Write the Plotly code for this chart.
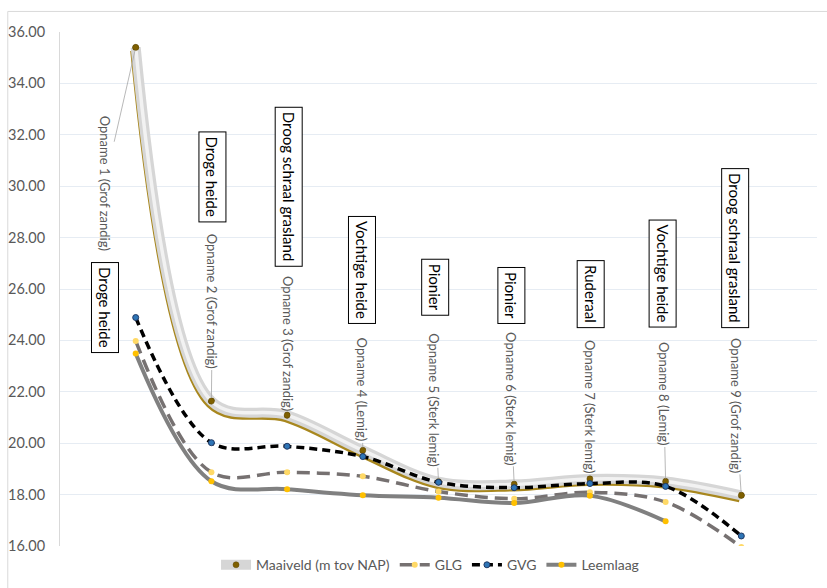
import plotly.graph_objects as go

# ---------------- data ----------------
opnames = ["Opname 1 (Grof zandig)", "Opname 2 (Grof zandig)", "Opname 3 (Grof zandig)",
           "Opname 4 (Lemig)", "Opname 5 (Sterk lemig)", "Opname 6 (Sterk lemig)",
           "Opname 7 (Sterk lemig)", "Opname 8 (Lemig)", "Opname 9 (Grof zandig)"]
vegetatie = ["Droge heide", "Droge heide", "Droog schraal grasland", "Vochtige heide",
             "Pionier", "Pionier", "Ruderaal", "Vochtige heide", "Droog schraal grasland"]
maaiveld = [35.40, 21.64, 21.09, 19.72, 18.50, 18.40, 18.61, 18.51, 17.97]
glg = [23.98, 18.87, 18.87, 18.71, 18.12, 17.84, 18.09, 17.71, 15.96]
gvg = [24.89, 20.02, 19.88, 19.48, 18.48, 18.27, 18.43, 18.32, 16.39]
leemlaag = [23.49, 18.52, 18.21, 17.97, 17.88, 17.67, 17.96, 16.96, None]
y_ticks = [16, 18, 20, 22, 24, 26, 28, 30, 32, 34, 36]

xs = list(range(1, len(opnames) + 1))

# ---------------- layout helpers (positions, not data) ----------------
label_offsets = [(-31, 136), (1, -100), (1, -72), (-1, -61), (-4, -82),
                 (-4, -86), (0, -72), (-2, -88), (-6, -90)]
box_pos = [(0.594, 25.26), (2.008, 30.38), (3.018, 29.96), (3.983, 26.76), (4.95, 26.06),
           (5.967, 25.74), (7.005, 25.79), (7.966, 26.60), (8.917, 27.59)]

FONT = "Lato"
GREY_TXT = "#595959"
shift_x = 0.02    # ~1.5 px
shift_y = 0.12    # ~3 px

fig = go.Figure()

# gold edge of the Maaiveld band (on base axes, slightly shifted)
fig.add_trace(go.Scatter(x=xs, y=maaiveld, xaxis="x", yaxis="y", mode="lines",
                         line=dict(color="#A8871E", width=8, shape="spline"),
                         showlegend=False, hoverinfo="skip"))

# Maaiveld band
fig.add_trace(go.Scatter(x=xs, y=maaiveld, xaxis="x2", yaxis="y2", mode="lines+markers",
                         name="Maaiveld (m tov NAP)",
                         line=dict(color="#D6D6D6", width=10, shape="spline"),
                         marker=dict(color="#7F6000", size=6, line=dict(color="#5A4500", width=0.5))))
fig.add_trace(go.Scatter(x=xs, y=maaiveld, xaxis="x2", yaxis="y2", mode="lines",
                         line=dict(color="#F2F2F2", width=3.5, shape="spline"),
                         showlegend=False, hoverinfo="skip"))
fig.add_trace(go.Scatter(x=xs, y=maaiveld, xaxis="x2", yaxis="y2", mode="markers",
                         marker=dict(color="#7F6000", size=6, line=dict(color="#5A4500", width=0.5)),
                         showlegend=False, hoverinfo="skip"))

fig.add_trace(go.Scatter(x=xs, y=glg, xaxis="x2", yaxis="y2", mode="lines+markers", name="GLG",
                         line=dict(color="#767171", width=3.5, dash="13px,7px", shape="spline"),
                         marker=dict(color="#FFD966", size=6)))
fig.add_trace(go.Scatter(x=xs, y=gvg, xaxis="x2", yaxis="y2", mode="lines+markers", name="GVG",
                         line=dict(color="#000000", width=3.5, dash="8px,5px", shape="spline"),
                         marker=dict(color="#2E75B6", size=6, line=dict(color="#1F3864", width=1))))
fig.add_trace(go.Scatter(x=xs, y=leemlaag, xaxis="x2", yaxis="y2", mode="lines+markers",
                         name="Leemlaag",
                         line=dict(color="#808080", width=4, shape="spline"),
                         marker=dict(color="#FFC000", size=6)))

annotations = []
for i, (lab, (ax, ay)) in enumerate(zip(opnames, label_offsets)):
    annotations.append(dict(x=xs[i], y=maaiveld[i], xref="x2", yref="y2", text=lab,
                            textangle=90, showarrow=True, arrowhead=0, arrowwidth=0.8,
                            arrowcolor="#A6A6A6", ax=ax, ay=ay, standoff=3,
                            font=dict(family=FONT, size=13, color=GREY_TXT)))
for veg, (bx, by) in zip(vegetatie, box_pos):
    annotations.append(dict(x=bx, y=by, xref="x2", yref="y2", text=veg, textangle=90,
                            showarrow=False, bgcolor="white", bordercolor="#000000",
                            borderwidth=1, borderpad=4,
                            font=dict(family=FONT, size=15, color="#000000")))

fig.update_layout(
    width=827, height=588,
    margin=dict(l=60, r=10, t=32, b=42, autoexpand=False),
    paper_bgcolor="white", plot_bgcolor="white",
    font=dict(family=FONT, color=GREY_TXT),
    xaxis=dict(range=[0 + shift_x, 10 + shift_x], visible=False),
    yaxis=dict(range=[16 + shift_y, 36 + shift_y], visible=False, showgrid=False),
    xaxis2=dict(range=[0, 10], overlaying="x", anchor="y2", showticklabels=False,
                showgrid=False, zeroline=False, ticks="", showline=False),
    yaxis2=dict(range=[16, 36], overlaying="y", anchor="x2", side="left",
                tickvals=y_ticks, ticktext=[f"{v:.2f}" for v in y_ticks],
                showgrid=True, gridcolor="#E6ECF3", gridwidth=1, zeroline=False,
                showline=True, linecolor="#D9D9D9", linewidth=1, ticks="",
                ticklabelstandoff=11,
                tickfont=dict(family=FONT, size=14.5, color=GREY_TXT)),
    legend=dict(orientation="h", x=0.52, xanchor="center", xref="container",
                y=0.066, yanchor="top", yref="container",
                font=dict(family=FONT, size=14, color=GREY_TXT), bgcolor="rgba(0,0,0,0)",
                itemwidth=30),
    annotations=annotations,
    shapes=[
        dict(type="line", xref="paper", yref="paper", x0=-0.069, x1=-0.069, y0=-0.2, y1=1.04,
             line=dict(color="#D9D9D9", width=1)),
        dict(type="line", xref="paper", yref="paper", x0=-0.069, x1=1.05, y0=1.04, y1=1.04,
             line=dict(color="#D9D9D9", width=1)),
    ],
)

fig.write_html("out.html")
